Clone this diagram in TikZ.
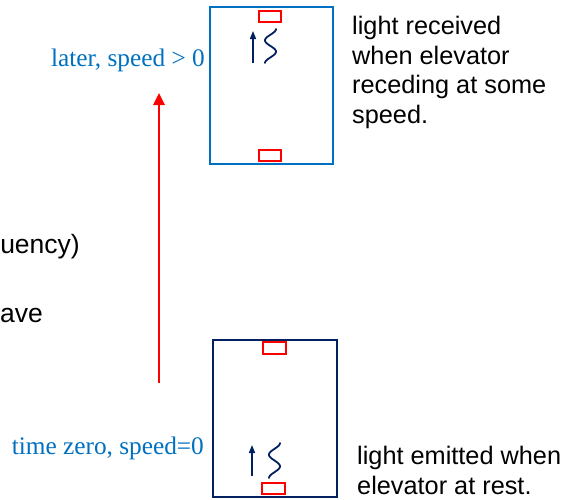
\documentclass[tikz,border=0pt]{standalone}
\usepackage{fontspec}
\setmainfont{Liberation Serif}
\setsansfont{Liberation Sans}
\usetikzlibrary{arrows.meta}
\definecolor{txtblue}{HTML}{0070C0}
\definecolor{boxblue}{HTML}{0070C0}
\definecolor{navy}{HTML}{002060}
\definecolor{redc}{HTML}{FF0000}
\tikzset{
  elev/.style={draw, line width=2pt, minimum width=#1, minimum height=157pt, inner sep=0pt},
  sensor/.style={draw=redc, line width=1.8pt, minimum width=22pt, minimum height=11pt, inner sep=0pt},
  bluelabel/.style={text=txtblue, inner sep=0pt, font=\fontsize{25.3}{30}\selectfont},
  note/.style={inner sep=0pt, align=left, font=\sffamily\fontsize{25.3}{29.5}\selectfont},
  fragment/.style={inner sep=0pt, font=\sffamily\fontsize{26.5}{30}\selectfont},
  smallarrow/.style={draw=navy, line width=1.5pt, -{Triangle[width=6pt,length=8pt]}},
  wave/.style={draw=navy, line width=1.8pt, line cap=round},
  bigarrow/.style={draw=redc, line width=2.5pt, -{Triangle[width=11pt,length=12pt]}}
}
\begin{document}
\begin{tikzpicture}[x=1pt,y=-1pt]
\useasboundingbox (0,0) rectangle (565,499);
\clip (0,0) rectangle (565,499);
% fragments at left edge
\node[fragment, anchor=base east] (frag1) at (80,253) {uency)};
\node[fragment, anchor=base west] (frag2) at (0,322) {ave};
% top elevator
\node[elev=123pt, draw=boxblue] (topbox) at (271.5,85.5) {};
\node[sensor] (topsensA) at (270,16.5) {};
\node[sensor] (topsensB) at (270,155.5) {};
\coordinate (tarrS) at (253,63);
\coordinate (tarrE) at (253,31);
\draw[smallarrow] (tarrS) -- (tarrE);
\draw[wave] plot[domain=0:540, samples=73, variable=\t] ({270.5+5.5*cos(\t)}, {29+(\t/540)*34});
% bottom elevator
\node[elev=124pt, draw=navy] (botbox) at (275,418.5) {};
\node[sensor, minimum width=23pt, minimum height=12pt] (botsensA) at (274.5,348) {};
\node[sensor, minimum width=23pt] (botsensB) at (273.5,488.5) {};
\coordinate (barrS) at (252,476);
\coordinate (barrE) at (252,445);
\draw[smallarrow] (barrS) -- (barrE);
\draw[wave] plot[domain=0:540, samples=73, variable=\t] ({274.5+5.5*cos(\t)}, {443+(\t/540)*35});
% big red arrow
\coordinate (redS) at (159,383);
\coordinate (redE) at (159,93);
\draw[bigarrow] (redS) -- (redE);
% labels
\node[bluelabel, anchor=base east] (later) at (205,66) {later, speed > 0};
\node[bluelabel, anchor=base east] (zero) at (204,454) {time zero, speed=0};
\node[note, anchor=north west] (recv) at (352,16) {light received\\when elevator\\receding at some\\speed.};
\node[note, anchor=north west] (emit) at (357,446) {light emitted when\\elevator at rest.};
\end{tikzpicture}
\end{document}
